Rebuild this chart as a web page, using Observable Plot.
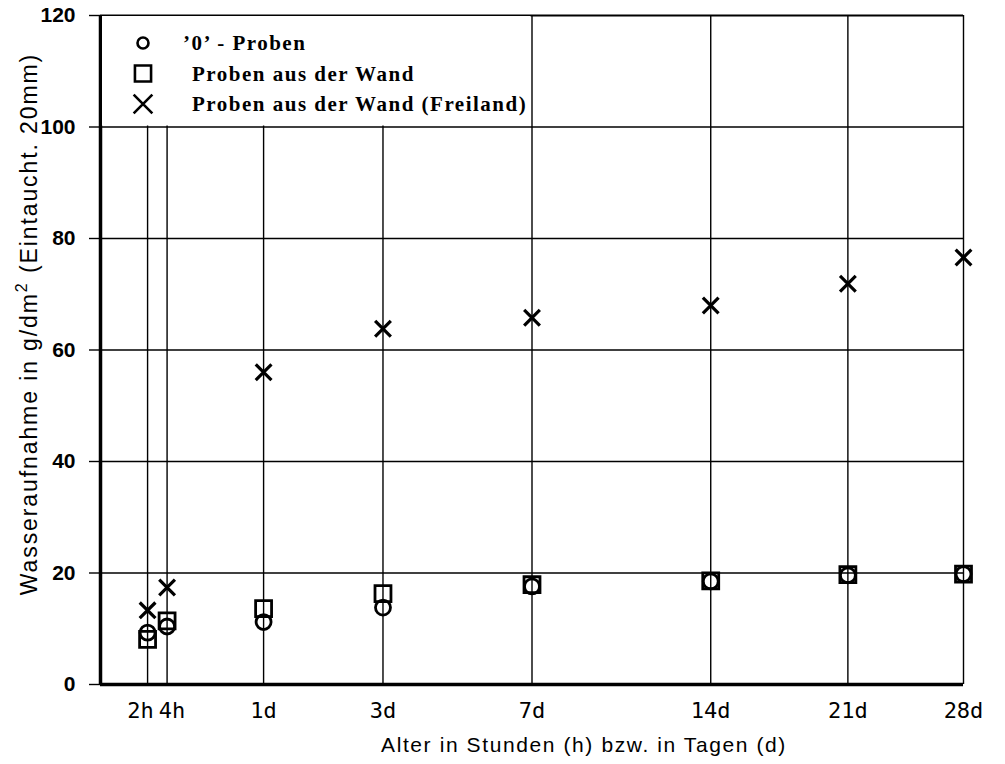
<!DOCTYPE html>
<html><head><meta charset="utf-8">
<script src="https://cdn.jsdelivr.net/npm/d3@7"></script>
<script src="https://cdn.jsdelivr.net/npm/@observablehq/plot@0.6"></script>
<style>
html,body{margin:0;padding:0;background:#fff;}
#chart svg{display:block;}
</style></head><body><div id="chart"></div>
<script>
// Age of samples in hours and its labels
const ageHours = [2, 4, 24, 72, 168, 336, 504, 672];
const ageLabels = ["2h", "4h", "1d", "3d", "7d", "14d", "21d", "28d"];
// Water uptake in g/dm² (immersion 20mm)
const nullProben = [9.3, 10.4, 11.2, 13.8, 17.6, 18.5, 19.6, 19.8];
const wandProben = [8.1, 11.4, 13.6, 16.3, 17.9, 18.6, 19.7, 19.8];
const freilandProben = [13.3, 17.4, 56.0, 63.8, 65.8, 68.0, 71.9, 76.6];
const yTicks = [0, 20, 40, 60, 80, 100, 120];
const seriesNames = ["\u20190\u2019 - Proben", "Proben aus der Wand", "Proben aus der Wand (Freiland)"];
const seriesSymbols = ["circle", "square", "times"];
const legendRightAge = 168; // legend box reaches the 7d line
const xTitle = "Alter in Stunden (h) bzw. in Tagen (d)";

const rows = vals => ageHours.map((h, i) => ({h, v: vals[i]}));

const chart = Plot.plot({
  width: 1005, height: 764,
  marginLeft: 100, marginRight: 42, marginTop: 15, marginBottom: 80,
  x: {type: "sqrt", domain: [0, 672]},
  y: {domain: [0, 120]},
  style: {background: "white", color: "black", overflow: "visible"},
  marks: [
    Plot.ruleY(yTicks.filter(t => t > 0 && t < 120), {stroke: "black", strokeWidth: 1.4}),
    Plot.ruleX(ageHours, {y1: 0, y2: 120, stroke: "black", strokeWidth: 1.4}),
    Plot.ruleY([120], {stroke: "black", strokeWidth: 1.8}),
    Plot.axisY({ticks: yTicks, tickSize: 11, tickPadding: 14, label: null, strokeWidth: 1.4}),
    Plot.axisX({ticks: ageHours, tickSize: 0, tickPadding: 18, label: null,
      tickFormat: d => ageLabels[ageHours.indexOf(d)]}),
    Plot.dot(rows(nullProben), {x: "h", y: "v", symbol: "circle", r: 7.5, stroke: "black", strokeWidth: 2.8, fill: "none"}),
    Plot.dot(rows(wandProben), {x: "h", y: "v", symbol: "square", r: 9, stroke: "black", strokeWidth: 2.8, fill: "none"}),
    Plot.dot(rows(freilandProben), {x: "h", y: "v", symbol: "times", r: 7.2, stroke: "black", strokeWidth: 3.2}),
    Plot.ruleX([0], {stroke: "black", strokeWidth: 3.5}),
    Plot.ruleY([0], {stroke: "black", strokeWidth: 3.5})
  ]
});

const svg = d3.select(chart);
// axis label fonts
svg.selectAll('[aria-label="y-axis tick label"] text')
  .attr("font-family", "Liberation Sans, Arial, sans-serif")
  .attr("font-weight", "bold").attr("font-size", 21);
svg.selectAll('[aria-label="x-axis tick label"] text')
  .attr("font-family", "DejaVu Sans Mono, monospace")
  .attr("font-size", 22)
  .attr("dx", (d, i) => i === 0 ? -7 : i === 1 ? 5 : 0);

const sx = chart.scale("x"), sy = chart.scale("y");
const g = svg.append("g").attr("text-anchor", "start");
// legend box (covers grid lines)
g.append("rect")
  .attr("x", sx.apply(0) + 2).attr("y", sy.apply(120) + 1)
  .attr("width", sx.apply(legendRightAge) - sx.apply(0) - 3)
  .attr("height", sy.apply(100) - sy.apply(120) - 2)
  .attr("fill", "white");
const sym = d3.symbol();
const symTypes = {circle: d3.symbolCircle, square: d3.symbolSquare, times: d3.symbolTimes};
const symSizes = {circle: 95, square: 260, times: 230};
seriesNames.forEach((name, i) => {
  const cy = 43 + i * 30.5;
  g.append("path")
    .attr("transform", `translate(${143},${cy})`)
    .attr("d", sym.type(symTypes[seriesSymbols[i]]).size(symSizes[seriesSymbols[i]])())
    .attr("fill", "none").attr("stroke", "black").attr("stroke-width", 2.6);
  g.append("text")
    .attr("x", i === 0 ? 183 : 192).attr("y", cy + 7)
    .attr("text-anchor", "start")
    .attr("font-family", "Liberation Serif, Times New Roman, serif")
    .attr("font-weight", "bold").attr("font-size", 21).attr("letter-spacing", 1.5)
    .text(name);
});
// x title
svg.append("text")
  .attr("x", 584).attr("y", 752).attr("text-anchor", "middle")
  .attr("font-family", "Liberation Sans, Arial, sans-serif").attr("font-size", 21)
  .attr("letter-spacing", 1.6)
  .text(xTitle);
// y title with superscript
const yt = svg.append("text")
  .attr("transform", `translate(37,${324}) rotate(-90)`)
  .attr("text-anchor", "middle")
  .attr("font-family", "Liberation Sans, Arial, sans-serif").attr("font-size", 23)
  .attr("letter-spacing", 1.9);
yt.append("tspan").text("Wasseraufnahme in g/dm");
yt.append("tspan").attr("dy", -10).attr("font-size", 16).text("2");
yt.append("tspan").attr("dy", 10).text(" (Eintaucht. 20mm)");

document.getElementById("chart").appendChild(chart);
</script></body></html>
